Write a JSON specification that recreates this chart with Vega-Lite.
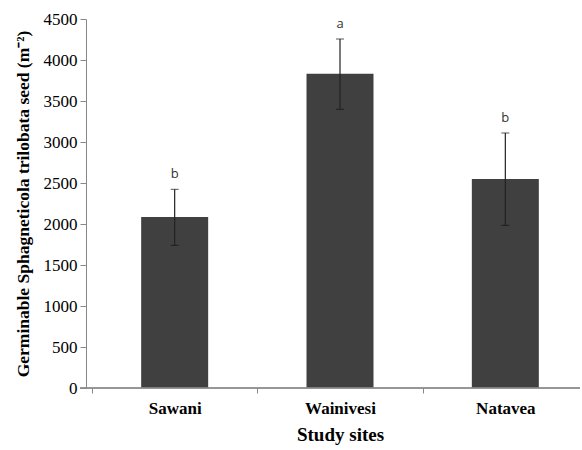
{
  "$schema": "https://vega.github.io/schema/vega-lite/v6.json",
  "autosize": "none",
  "width": 494,
  "height": 369,
  "padding": {"left": 86, "top": 19, "right": 2, "bottom": 62},
  "background": "white",
  "config": {"view": {"stroke": null}},
  "data": {
    "values": [
      {"site": "Sawani", "mean": 2085, "lower": 1740, "upper": 2423, "letter": "b"},
      {"site": "Wainivesi", "mean": 3833, "lower": 3399, "upper": 4256, "letter": "a"},
      {"site": "Natavea", "mean": 2549, "lower": 1984, "upper": 3110, "letter": "b"}
    ]
  },
  "encoding": {
    "x": {
      "field": "site",
      "type": "nominal",
      "sort": ["Sawani", "Wainivesi", "Natavea"],
      "scale": {"range": [6, 502], "paddingInner": 0, "paddingOuter": 0},
      "axis": {
        "title": "Study sites",
        "titleFont": "Liberation Serif",
        "titleFontSize": 19,
        "titleFontWeight": "bold",
        "titleColor": "#000",
        "titlePadding": 9,
        "labelFont": "Liberation Serif",
        "labelFontSize": 17,
        "labelFontWeight": "bold",
        "labelColor": "#000",
        "labelAngle": 0,
        "labelPadding": 7,
        "tickBand": "extent",
        "tickSize": 5,
        "tickColor": "#888",
        "domain": false
      }
    }
  },
  "layer": [
    {
      "mark": {"type": "bar", "width": 67, "color": "#404040"},
      "encoding": {
        "y": {
          "field": "mean",
          "type": "quantitative",
          "title": "Germinable Sphagneticola trilobata seed (m⁻²)",
          "scale": {"domain": [0, 4500], "nice": false},
          "axis": {
            "values": [0, 500, 1000, 1500, 2000, 2500, 3000, 3500, 4000, 4500],
            "format": "d",
            "titleFont": "Liberation Serif",
            "titleFontSize": 17.5,
            "titleFontWeight": "bold",
            "titleColor": "#000",
            "titlePadding": 11,
            "labelFont": "Liberation Serif",
            "labelFontSize": 17,
            "labelColor": "#000",
            "labelPadding": 3,
            "tickSize": 6,
            "tickColor": "#888",
            "domainColor": "#888",
            "grid": false
          }
        }
      }
    },
    {
      "mark": {"type": "rule", "color": "#888", "strokeWidth": 1},
      "encoding": {"y": {"datum": 0, "type": "quantitative"}, "x": {"value": -6}, "x2": {"value": 494}}
    },
    {
      "mark": {"type": "errorbar", "ticks": {"size": 8, "color": "#111", "strokeWidth": 1.3}, "rule": {"color": "#222", "strokeWidth": 1.2}},
      "encoding": {
        "y": {"field": "lower", "type": "quantitative", "title": "Germinable Sphagneticola trilobata seed (m⁻²)"},
        "y2": {"field": "upper"}
      }
    },
    {
      "mark": {"type": "text", "dy": -8, "font": "Open Sans", "fontSize": 13, "color": "#333", "baseline": "bottom"},
      "encoding": {
        "y": {"field": "upper", "type": "quantitative", "title": "Germinable Sphagneticola trilobata seed (m⁻²)"},
        "text": {"field": "letter"}
      }
    }
  ]
}
